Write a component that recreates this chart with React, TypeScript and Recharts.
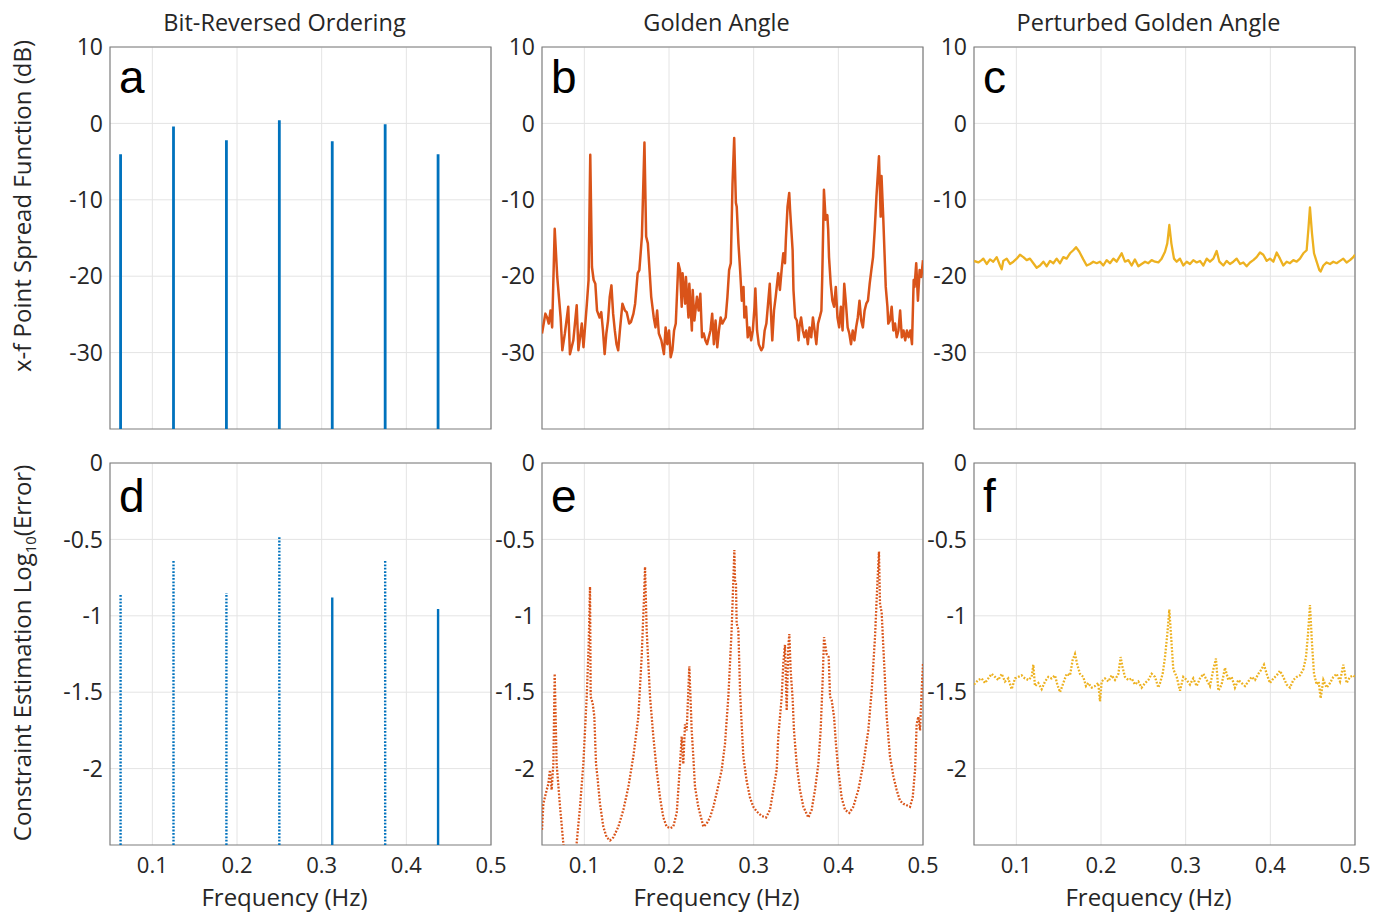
import React from "react";
import { LineChart, Line, XAxis, YAxis, CartesianGrid, ReferenceArea } from "recharts";

const FREQ_TICKS = [0.1, 0.2, 0.3, 0.4, 0.5];
const PSF_TICKS = [10, 0, -10, -20, -30];
const ERR_TICKS = [0, -0.5, -1, -1.5, -2];
const PSF_DOMAIN: [number, number] = [-40, 10];
const ERR_DOMAIN: [number, number] = [-2.5, 0];
const FREQ_DOMAIN: [number, number] = [0.05, 0.5];

const COLUMN_TITLES = ["Bit-Reversed Ordering", "Golden Angle", "Perturbed Golden Angle"];
const PANEL_LETTERS = [["a", "b", "c"], ["d", "e", "f"]];

// bit-reversed ordering: discrete stems
const STEM_FREQ = [0.0625, 0.125, 0.1875, 0.25, 0.3125, 0.375, 0.4375];
const BITREV_PSF = [-4.05, -0.4, -2.2, 0.4, -2.35, -0.1, -4.05];
const BITREV_ERR = [-0.86, -0.64, -0.85, -0.475, -0.88, -0.64, -0.955];

// [frequency, dB]
const GOLDEN_PSF: [number, number][] = [
  [0.05, -27.5], [0.054, -24.9], [0.056, -25.4], [0.058, -26.2], [0.06, -24.5], [0.062, -26.7],
  [0.065, -13.8], [0.068, -20.1], [0.072, -25.4], [0.074, -29.7], [0.077, -27.5], [0.081, -24.0],
  [0.083, -30.2], [0.087, -28.4], [0.091, -23.8], [0.093, -29.7], [0.097, -26.2], [0.099, -29.3],
  [0.103, -23.6], [0.105, -20.5], [0.107, -4.1], [0.109, -18.8], [0.111, -20.5], [0.113, -21.0],
  [0.115, -24.5], [0.118, -25.4], [0.12, -24.7], [0.122, -27.1], [0.124, -30.2], [0.126, -27.5],
  [0.128, -25.8], [0.13, -22.7], [0.132, -21.2], [0.134, -24.9], [0.136, -27.1], [0.138, -28.9],
  [0.14, -29.7], [0.142, -27.1], [0.145, -23.6], [0.148, -24.5], [0.15, -24.7], [0.153, -26.2],
  [0.155, -26.0], [0.158, -24.9], [0.16, -23.6], [0.163, -19.6], [0.165, -19.2], [0.168, -14.8],
  [0.171, -2.5], [0.173, -14.8], [0.175, -15.7], [0.177, -19.2], [0.179, -22.7], [0.182, -25.4],
  [0.184, -26.7], [0.186, -24.5], [0.188, -27.5], [0.191, -28.4], [0.194, -30.2], [0.196, -26.7],
  [0.198, -28.9], [0.2, -27.1], [0.202, -30.6], [0.204, -29.7], [0.206, -27.1], [0.208, -26.2],
  [0.211, -18.3], [0.213, -19.2], [0.215, -24.0], [0.216, -19.6], [0.219, -23.6], [0.22, -20.1],
  [0.223, -25.4], [0.224, -21.0], [0.227, -27.1], [0.228, -21.8], [0.23, -25.8], [0.233, -22.7],
  [0.235, -24.5], [0.237, -22.3], [0.239, -28.0], [0.241, -27.5], [0.243, -28.4], [0.245, -28.9],
  [0.247, -28.0], [0.249, -27.1], [0.251, -24.9], [0.253, -28.9], [0.255, -25.8], [0.257, -29.3],
  [0.259, -27.1], [0.261, -25.4], [0.263, -26.2], [0.265, -25.8], [0.267, -25.4], [0.269, -22.7],
  [0.271, -19.2], [0.273, -18.3], [0.275, -8.0], [0.277, -1.9], [0.279, -10.4], [0.28, -10.9],
  [0.282, -15.7], [0.284, -19.2], [0.286, -23.2], [0.288, -21.4], [0.289, -25.4], [0.291, -24.0],
  [0.293, -28.0], [0.295, -26.7], [0.297, -28.4], [0.299, -27.1], [0.301, -24.0], [0.302, -21.6],
  [0.304, -27.1], [0.306, -28.9], [0.309, -29.7], [0.311, -29.3], [0.313, -27.1], [0.315, -26.2],
  [0.317, -23.6], [0.319, -21.0], [0.321, -26.2], [0.322, -28.4], [0.324, -24.5], [0.326, -22.7],
  [0.329, -19.6], [0.331, -21.8], [0.333, -19.2], [0.335, -17.0], [0.337, -18.3], [0.338, -15.3],
  [0.34, -10.9], [0.342, -9.1], [0.343, -11.3], [0.346, -16.6], [0.347, -21.8], [0.349, -25.4],
  [0.351, -25.8], [0.353, -28.4], [0.354, -26.7], [0.356, -25.4], [0.358, -27.1], [0.36, -28.0],
  [0.362, -27.1], [0.364, -28.9], [0.366, -26.7], [0.368, -28.0], [0.37, -25.4], [0.372, -27.1],
  [0.374, -28.9], [0.376, -26.2], [0.378, -25.4], [0.38, -24.5], [0.381, -20.1], [0.383, -8.7],
  [0.385, -12.6], [0.387, -12.0], [0.388, -13.9], [0.389, -17.5], [0.391, -21.0], [0.393, -23.2],
  [0.395, -24.0], [0.397, -21.4], [0.399, -25.4], [0.401, -26.7], [0.403, -24.0], [0.405, -27.1],
  [0.407, -21.0], [0.409, -23.6], [0.411, -26.7], [0.413, -27.5], [0.415, -28.9], [0.417, -27.1],
  [0.419, -28.4], [0.421, -26.7], [0.423, -25.4], [0.425, -23.2], [0.427, -25.8], [0.429, -26.7],
  [0.431, -24.5], [0.433, -23.6], [0.435, -23.2], [0.437, -21.0], [0.439, -19.2], [0.441, -17.5],
  [0.443, -13.9], [0.445, -9.6], [0.448, -4.3], [0.449, -8.2], [0.45, -12.2], [0.451, -6.9],
  [0.453, -12.2], [0.455, -18.3], [0.456, -21.4], [0.458, -24.0], [0.459, -26.2], [0.461, -25.8],
  [0.463, -24.0], [0.465, -27.1], [0.467, -26.2], [0.469, -28.0], [0.471, -27.1], [0.473, -24.5],
  [0.475, -28.0], [0.477, -27.1], [0.479, -28.4], [0.481, -27.1], [0.483, -28.0], [0.485, -27.1],
  [0.487, -28.9], [0.489, -20.5], [0.49, -21.4], [0.492, -18.3], [0.494, -23.2], [0.496, -19.2],
  [0.498, -20.1], [0.5, -17.9],
];

const PERTURBED_PSF: [number, number][] = [
  [0.05, -18.0], [0.0551, -18.2], [0.0591, -17.9], [0.061, -17.7], [0.065, -18.4], [0.0689, -17.8],
  [0.0728, -18.1], [0.0768, -17.5], [0.0807, -18.6], [0.0827, -19.1], [0.0846, -18.0], [0.0886, -17.7],
  [0.0925, -18.4], [0.0965, -18.1], [0.1004, -17.7], [0.1043, -17.2], [0.1083, -17.5], [0.1122, -17.9],
  [0.1161, -17.7], [0.1201, -18.3], [0.124, -18.9], [0.128, -18.6], [0.1319, -18.1], [0.1358, -18.7],
  [0.1398, -18.0], [0.1437, -18.3], [0.1476, -17.7], [0.1516, -18.3], [0.1555, -17.5], [0.1594, -17.7],
  [0.1634, -17.0], [0.1673, -16.6], [0.1705, -16.2], [0.1744, -16.8], [0.1791, -17.8], [0.1831, -18.6],
  [0.187, -18.4], [0.1909, -18.1], [0.1949, -18.3], [0.1988, -18.1], [0.2027, -18.6], [0.2067, -17.9],
  [0.2106, -18.3], [0.2146, -17.7], [0.2185, -18.1], [0.2244, -17.0], [0.2283, -18.1], [0.2323, -17.9],
  [0.2362, -18.6], [0.2401, -17.8], [0.2441, -18.7], [0.248, -18.4], [0.252, -18.1], [0.2559, -18.3],
  [0.2598, -17.9], [0.2638, -18.1], [0.2677, -18.2], [0.2716, -17.7], [0.2756, -16.8], [0.2783, -15.7],
  [0.2807, -13.3], [0.2831, -15.7], [0.2862, -17.7], [0.2894, -18.1], [0.2933, -17.7], [0.2972, -18.6],
  [0.3012, -18.1], [0.3051, -18.4], [0.309, -17.9], [0.313, -18.2], [0.3169, -18.0], [0.3209, -18.6],
  [0.3248, -17.7], [0.3287, -18.1], [0.3327, -17.7], [0.3366, -16.7], [0.3398, -18.1], [0.3445, -18.6],
  [0.3484, -18.0], [0.3523, -18.4], [0.3563, -18.1], [0.3602, -17.7], [0.3642, -18.4], [0.3681, -18.2],
  [0.372, -18.7], [0.376, -18.2], [0.3799, -17.9], [0.3838, -17.5], [0.3878, -16.9], [0.3917, -17.2],
  [0.3957, -18.0], [0.3996, -17.7], [0.4036, -18.1], [0.4075, -16.9], [0.4114, -17.7], [0.4153, -18.6],
  [0.4193, -18.1], [0.4232, -18.3], [0.4272, -17.9], [0.4311, -18.1], [0.435, -17.7], [0.439, -17.0],
  [0.4429, -16.6], [0.4449, -13.9], [0.4468, -11.0], [0.4492, -14.4], [0.4516, -17.0], [0.4547, -18.1],
  [0.4579, -19.2], [0.4594, -19.4], [0.4626, -18.6], [0.4665, -18.2], [0.4705, -18.4], [0.4744, -18.1],
  [0.4783, -18.3], [0.4823, -18.0], [0.4862, -17.7], [0.4901, -18.2], [0.4941, -17.9], [0.498, -17.5],
  [0.5, -17.2],
];

// [frequency, log10 error]
const GOLDEN_ERR: [number, number][] = [
  [0.05, -2.4], [0.0516, -2.23], [0.0555, -2.14], [0.0575, -2.1], [0.0594, -2.01], [0.0614, -2.14],
  [0.0634, -1.97], [0.065, -1.38], [0.0673, -1.97], [0.0713, -2.25], [0.0752, -2.49], [0.0791, -2.7],
  [0.085, -2.8], [0.089, -2.6], [0.0909, -2.49], [0.0949, -2.25], [0.0988, -1.97], [0.1028, -1.53],
  [0.1051, -1.2], [0.1067, -0.81], [0.1075, -1.53], [0.1098, -1.57], [0.1118, -1.66], [0.1138, -1.97],
  [0.1154, -2.05], [0.1185, -2.23], [0.1224, -2.38], [0.1264, -2.45], [0.1303, -2.47], [0.1343, -2.45],
  [0.1402, -2.38], [0.1461, -2.27], [0.152, -2.12], [0.1579, -1.92], [0.1638, -1.66], [0.1677, -1.27],
  [0.1705, -0.88], [0.1717, -0.68], [0.1736, -1.09], [0.1756, -1.31], [0.1776, -1.53], [0.1815, -1.79],
  [0.1854, -2.01], [0.1894, -2.19], [0.1933, -2.32], [0.1972, -2.38], [0.2012, -2.39], [0.2051, -2.38],
  [0.2091, -2.29], [0.211, -2.14], [0.213, -1.97], [0.215, -1.79], [0.2169, -1.97], [0.2189, -1.71],
  [0.2209, -1.75], [0.224, -1.33], [0.2268, -1.75], [0.2287, -1.92], [0.2307, -2.12], [0.2346, -2.25],
  [0.2406, -2.38], [0.2445, -2.36], [0.2484, -2.32], [0.2524, -2.25], [0.2563, -2.16], [0.2622, -2.01],
  [0.2661, -1.84], [0.2701, -1.53], [0.274, -1.09], [0.2772, -0.57], [0.278, -0.77], [0.2791, -0.79],
  [0.2799, -1.05], [0.2819, -1.09], [0.2839, -1.49], [0.2858, -1.71], [0.2878, -1.92], [0.2917, -2.08],
  [0.2957, -2.19], [0.2996, -2.25], [0.3035, -2.28], [0.3094, -2.31], [0.3146, -2.32], [0.3193, -2.27],
  [0.3232, -2.14], [0.3272, -2.01], [0.3291, -1.79], [0.3311, -1.66], [0.3331, -1.53], [0.335, -1.31],
  [0.337, -1.19], [0.339, -1.62], [0.3409, -1.2], [0.3421, -1.12], [0.3437, -1.36], [0.3461, -1.55],
  [0.3476, -1.75], [0.3508, -1.97], [0.3547, -2.14], [0.3587, -2.25], [0.3646, -2.32], [0.3685, -2.27],
  [0.3724, -2.14], [0.3764, -1.97], [0.3791, -1.75], [0.3815, -1.42], [0.3831, -1.14], [0.3862, -1.25],
  [0.3886, -1.27], [0.3902, -1.53], [0.3921, -1.55], [0.3949, -1.66], [0.3972, -1.84], [0.4, -2.01],
  [0.4039, -2.19], [0.4079, -2.27], [0.413, -2.29], [0.4177, -2.25], [0.4236, -2.14], [0.4295, -1.97],
  [0.4354, -1.75], [0.4394, -1.49], [0.4433, -1.14], [0.4461, -0.79], [0.448, -0.58], [0.4492, -0.92],
  [0.4512, -0.98], [0.4531, -1.2], [0.4551, -1.42], [0.4571, -1.66], [0.461, -1.92], [0.465, -2.05],
  [0.4689, -2.14], [0.4728, -2.21], [0.4768, -2.23], [0.4846, -2.25], [0.4878, -2.19], [0.4906, -2.01],
  [0.4925, -1.71], [0.4945, -1.66], [0.4965, -1.75], [0.4984, -1.49], [0.5, -1.31],
];

const PERTURBED_ERR: [number, number][] = [
  [0.05, -1.45], [0.0551, -1.42], [0.0591, -1.41], [0.063, -1.44], [0.0669, -1.41], [0.0709, -1.38],
  [0.0748, -1.4], [0.0787, -1.42], [0.0827, -1.38], [0.0866, -1.43], [0.0905, -1.41], [0.0945, -1.48],
  [0.0984, -1.41], [0.1024, -1.4], [0.1063, -1.39], [0.1102, -1.41], [0.1142, -1.42], [0.1181, -1.4],
  [0.1201, -1.32], [0.122, -1.46], [0.126, -1.44], [0.1299, -1.48], [0.1339, -1.43], [0.1378, -1.4],
  [0.1417, -1.41], [0.1457, -1.39], [0.1484, -1.45], [0.1516, -1.5], [0.1555, -1.44], [0.1594, -1.38],
  [0.1634, -1.39], [0.1665, -1.29], [0.1693, -1.25], [0.172, -1.32], [0.1752, -1.38], [0.1791, -1.4],
  [0.1823, -1.46], [0.185, -1.44], [0.189, -1.47], [0.1929, -1.46], [0.1968, -1.44], [0.1988, -1.56],
  [0.2008, -1.43], [0.2047, -1.41], [0.2087, -1.43], [0.2126, -1.39], [0.2165, -1.42], [0.2205, -1.38],
  [0.2232, -1.27], [0.2256, -1.34], [0.2283, -1.4], [0.2323, -1.42], [0.2362, -1.41], [0.2401, -1.45],
  [0.2441, -1.43], [0.248, -1.47], [0.252, -1.44], [0.2559, -1.42], [0.2598, -1.38], [0.2638, -1.4],
  [0.2677, -1.47], [0.2697, -1.44], [0.2728, -1.38], [0.2756, -1.27], [0.2783, -1.12], [0.2807, -0.96],
  [0.2831, -1.16], [0.2854, -1.35], [0.2894, -1.4], [0.2933, -1.49], [0.2972, -1.4], [0.3012, -1.42],
  [0.3051, -1.45], [0.309, -1.41], [0.313, -1.46], [0.3169, -1.41], [0.3209, -1.38], [0.3248, -1.42],
  [0.3287, -1.46], [0.3327, -1.35], [0.3358, -1.28], [0.3386, -1.49], [0.3425, -1.45], [0.3464, -1.34],
  [0.3504, -1.42], [0.3543, -1.4], [0.3582, -1.47], [0.3622, -1.42], [0.3661, -1.44], [0.3701, -1.46],
  [0.374, -1.43], [0.3779, -1.4], [0.3819, -1.42], [0.3858, -1.38], [0.3897, -1.35], [0.3925, -1.32],
  [0.3957, -1.38], [0.3996, -1.44], [0.4036, -1.41], [0.4075, -1.39], [0.4114, -1.36], [0.4153, -1.4],
  [0.4193, -1.45], [0.4232, -1.47], [0.4272, -1.42], [0.4311, -1.4], [0.435, -1.39], [0.439, -1.35],
  [0.4421, -1.27], [0.4445, -1.12], [0.4468, -0.93], [0.4492, -1.18], [0.4516, -1.38], [0.4547, -1.45],
  [0.4571, -1.43], [0.4594, -1.54], [0.4626, -1.42], [0.4665, -1.47], [0.4705, -1.44], [0.4744, -1.4],
  [0.4783, -1.38], [0.4823, -1.43], [0.4862, -1.32], [0.4901, -1.44], [0.4941, -1.4], [0.498, -1.39],
  [0.5, -1.4],
];

const BLUE = "#0072BD";
const ORANGE = "#D95319";
const YELLOW = "#EDB120";
const TEXT = "#262626";
const BORDER = "#7d7d7d";
const GRID = "#e4e4e4";
const FONT = "'Open Sans', 'Noto Sans', Arial, sans-serif";
const LETTER_FONT = "'Liberation Sans', Arial, Helvetica, sans-serif";

const PLOT_W = 381;
const PLOT_H = 382;
const Y_AXIS_W = 70;
const MARGIN = { top: 16, right: 24, bottom: 6, left: 6 };
const X_AXIS_H = 40;
const COL_LEFT = [110, 542, 974];
const ROW_TOP = [47, 463];
const DOTTED = "1.8 1.6";
const SOLID_STEMS = [4, 6];
const INNER_TICK = 5;

type Pt = { f: number; v: number | null };

const toPoints = (pairs: [number, number][]): Pt[] => pairs.map(([f, v]) => ({ f, v }));

const stemPoints = (freqs: number[], tops: number[], base: number, pick: (i: number) => boolean): Pt[] =>
  freqs.flatMap((f, i) => (pick(i) ? [{ f, v: base }, { f, v: tops[i] }, { f, v: null }] : []));

function Panel({ col, row, children }: { col: number; row: number; children: React.ReactNode }) {
  const bottom = row === 1;
  const domain = bottom ? ERR_DOMAIN : PSF_DOMAIN;
  const ticks = bottom ? ERR_TICKS : PSF_TICKS;
  const xh = bottom ? X_AXIS_H : 0;
  const tickLine = { stroke: BORDER, strokeWidth: 1 };
  return (
    <div
      style={{
        position: "absolute",
        left: COL_LEFT[col] - Y_AXIS_W - MARGIN.left,
        top: ROW_TOP[row] - MARGIN.top,
      }}
    >
      <LineChart
        width={PLOT_W + Y_AXIS_W + MARGIN.left + MARGIN.right}
        height={PLOT_H + MARGIN.top + MARGIN.bottom + xh}
        margin={MARGIN}
      >
        <CartesianGrid stroke={GRID} verticalValues={FREQ_TICKS} horizontalValues={ticks} />
        {/* inner tick marks on all four sides */}
        <XAxis xAxisId="tb" type="number" orientation="bottom" mirror domain={FREQ_DOMAIN} ticks={FREQ_TICKS} interval={0} allowDataOverflow height={0} tick={false} axisLine={false} tickLine={tickLine} tickSize={INNER_TICK} />
        <XAxis xAxisId="tt" type="number" orientation="top" mirror domain={FREQ_DOMAIN} ticks={FREQ_TICKS} interval={0} allowDataOverflow height={0} tick={false} axisLine={false} tickLine={tickLine} tickSize={INNER_TICK} />
        <YAxis yAxisId="tl" type="number" orientation="left" mirror domain={domain} ticks={ticks} interval={0} allowDataOverflow width={0} tick={false} axisLine={false} tickLine={tickLine} tickSize={INNER_TICK} />
        <YAxis yAxisId="tr" type="number" orientation="right" mirror domain={domain} ticks={ticks} interval={0} allowDataOverflow width={0} tick={false} axisLine={false} tickLine={tickLine} tickSize={INNER_TICK} />
        <XAxis
          type="number"
          dataKey="f"
          domain={FREQ_DOMAIN}
          ticks={FREQ_TICKS}
          interval={0}
          allowDataOverflow
          hide={!bottom}
          height={xh}
          tickLine={false}
          axisLine={false}
          tickMargin={6}
          tick={{ fill: TEXT, fontSize: 22, fontFamily: FONT }}
        />
        <YAxis
          type="number"
          dataKey="v"
          domain={domain}
          ticks={ticks}
          interval={0}
          allowDataOverflow
          width={Y_AXIS_W}
          tickLine={false}
          axisLine={false}
          tickMargin={1}
          tick={{ fill: TEXT, fontSize: 23, fontFamily: FONT }}
        />
        <ReferenceArea
          x1={FREQ_DOMAIN[0]}
          x2={FREQ_DOMAIN[1]}
          y1={domain[0]}
          y2={domain[1]}
          fill="none"
          stroke={BORDER}
          strokeWidth={1.2}
          ifOverflow="visible"
        />
        {children}
      </LineChart>
    </div>
  );
}

export default function App() {
  const stemsPsf = stemPoints(STEM_FREQ, BITREV_PSF, PSF_DOMAIN[0], () => true);
  const stemsErrDotted = stemPoints(STEM_FREQ, BITREV_ERR, ERR_DOMAIN[0], (i) => !SOLID_STEMS.includes(i));
  const stemsErrSolid = stemPoints(STEM_FREQ, BITREV_ERR, ERR_DOMAIN[0], (i) => SOLID_STEMS.includes(i));

  return (
    <div style={{ position: "absolute", left: 0, top: 0, width: 1389, height: 913, background: "#fff", fontFamily: FONT }}>
      <Panel col={0} row={0}>
        <Line data={stemsPsf} dataKey="v" stroke={BLUE} strokeWidth={2.8} dot={false} isAnimationActive={false} />
      </Panel>
      <Panel col={1} row={0}>
        <Line data={toPoints(GOLDEN_PSF)} dataKey="v" stroke={ORANGE} strokeWidth={2.5} dot={false} isAnimationActive={false} strokeLinejoin="round" />
      </Panel>
      <Panel col={2} row={0}>
        <Line data={toPoints(PERTURBED_PSF)} dataKey="v" stroke={YELLOW} strokeWidth={2.3} dot={false} isAnimationActive={false} strokeLinejoin="round" />
      </Panel>
      <Panel col={0} row={1}>
        <Line data={stemsErrDotted} dataKey="v" stroke={BLUE} strokeWidth={2.4} strokeDasharray={DOTTED} dot={false} isAnimationActive={false} />
        <Line data={stemsErrSolid} dataKey="v" stroke={BLUE} strokeWidth={2.4} dot={false} isAnimationActive={false} />
      </Panel>
      <Panel col={1} row={1}>
        <Line data={toPoints(GOLDEN_ERR)} dataKey="v" stroke={ORANGE} strokeWidth={2.3} strokeDasharray={DOTTED} dot={false} isAnimationActive={false} />
      </Panel>
      <Panel col={2} row={1}>
        <Line data={toPoints(PERTURBED_ERR)} dataKey="v" stroke={YELLOW} strokeWidth={2.3} strokeDasharray={DOTTED} dot={false} isAnimationActive={false} />
      </Panel>

      <svg width={1389} height={913} style={{ position: "absolute", left: 0, top: 0, pointerEvents: "none" }}>
        {COLUMN_TITLES.map((t, c) => (
          <text key={t} x={COL_LEFT[c] + PLOT_W / 2 - 16} y={31} textAnchor="middle" fontSize={23.5} fill={TEXT} fontFamily={FONT}>
            {t}
          </text>
        ))}
        {COL_LEFT.map((l, c) => (
          <text key={"xl" + c} x={l + PLOT_W / 2 - 16} y={906} textAnchor="middle" fontSize={24} fill={TEXT} fontFamily={FONT}>
            Frequency (Hz)
          </text>
        ))}
        {PANEL_LETTERS.map((r, ri) =>
          r.map((ch, c) => (
            <text key={ch} x={COL_LEFT[c] + 9} y={ROW_TOP[ri] + (ri === 0 ? 46 : 49)} fontSize={46} fill="#000" fontFamily={LETTER_FONT}>
              {ch}
            </text>
          ))
        )}
        <text transform="translate(31 206) rotate(-90)" textAnchor="middle" fontSize={24} fill={TEXT} fontFamily={FONT}>
          x-f Point Spread Function (dB)
        </text>
        <text transform="translate(31 653) rotate(-90)" textAnchor="middle" fontSize={24} fill={TEXT} fontFamily={FONT}>
          Constraint Estimation Log
          <tspan fontSize={15} dy={5}>10</tspan>
          <tspan dy={-5}>(Error)</tspan>
        </text>
      </svg>
    </div>
  );
}
